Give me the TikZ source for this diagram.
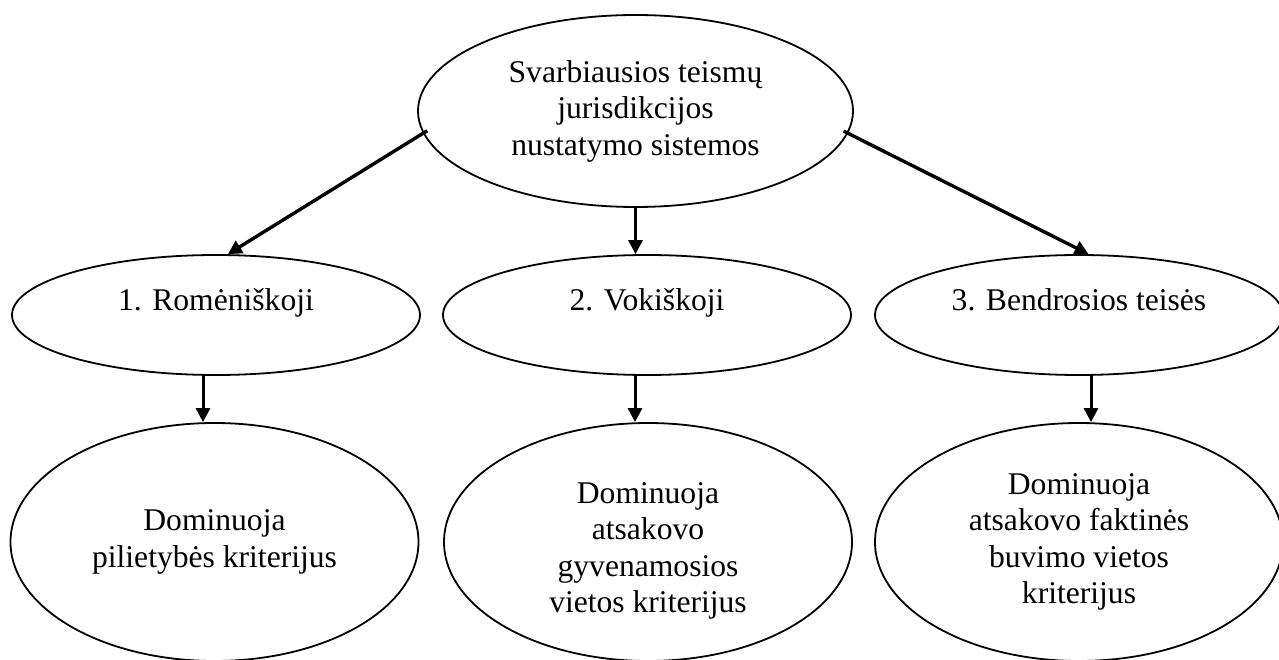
\documentclass[tikz,border=0pt]{standalone}
\usepackage{fontspec}
\setmainfont{Liberation Serif}
\usetikzlibrary{shapes.geometric,arrows.meta}
\begin{document}
\begin{tikzpicture}[x=1pt,y=-1pt,
  txt/.style={font=\fontsize{31.6}{36.5}\selectfont},
  oval/.style={ellipse,draw,line width=1.8pt,inner sep=0pt,align=center,txt},
  midoval/.style={oval,minimum width=408pt,minimum height=120pt},
  lowoval/.style={oval,minimum width=408pt,minimum height=238pt},
  midlbl/.style={txt,text height=22pt,text depth=7pt,yshift=12pt},
  arr/.style={line width=3pt,-{Triangle[length=14pt,width=14pt]}}]
\useasboundingbox (0,0) rectangle (1279,660);
\node[oval,minimum width=435pt,minimum height=192pt] (top) at (635.5,111)
  {Svarbiausios teismų\\jurisdikcijos\\nustatymo sistemos};
\node[midoval,label={[midlbl]center:1. Romėniškoji}] (m1) at (216,315) {};
\node[midoval,label={[midlbl]center:2. Vokiškoji}] (m2) at (647,315) {};
\node[midoval,label={[midlbl]center:3. Bendrosios teisės}] (m3) at (1079,315) {};
\node[lowoval] (b1) at (214.5,542) {Dominuoja\\pilietybės kriterijus};
\node[lowoval,label={[txt,align=center,yshift=-9pt]center:Dominuoja\\atsakovo\\gyvenamosios\\vietos kriterijus}] (b2) at (648,542) {};
\node[lowoval] (b3) at (1079,542) {Dominuoja\\atsakovo faktinės\\buvimo vietos\\kriterijus};
\draw[arr,line width=3.4pt,shorten <=-5pt] (top.186) -- (m1.79);
\draw[arr] (top.south) -- (top.south |- m2.north);
\draw[arr,line width=3.4pt,shorten <=-5pt] (top.354) -- (m3.81);
\draw[arr] ([xshift=-13pt]m1.south) -- ([xshift=-13pt]m1.south |- b1.north);
\draw[arr] ([xshift=-12pt]m2.south) -- ([xshift=-12pt]m2.south |- b2.north);
\draw[arr] ([xshift=12pt]m3.south) -- ([xshift=12pt]m3.south |- b3.north);
\end{tikzpicture}
\end{document}
